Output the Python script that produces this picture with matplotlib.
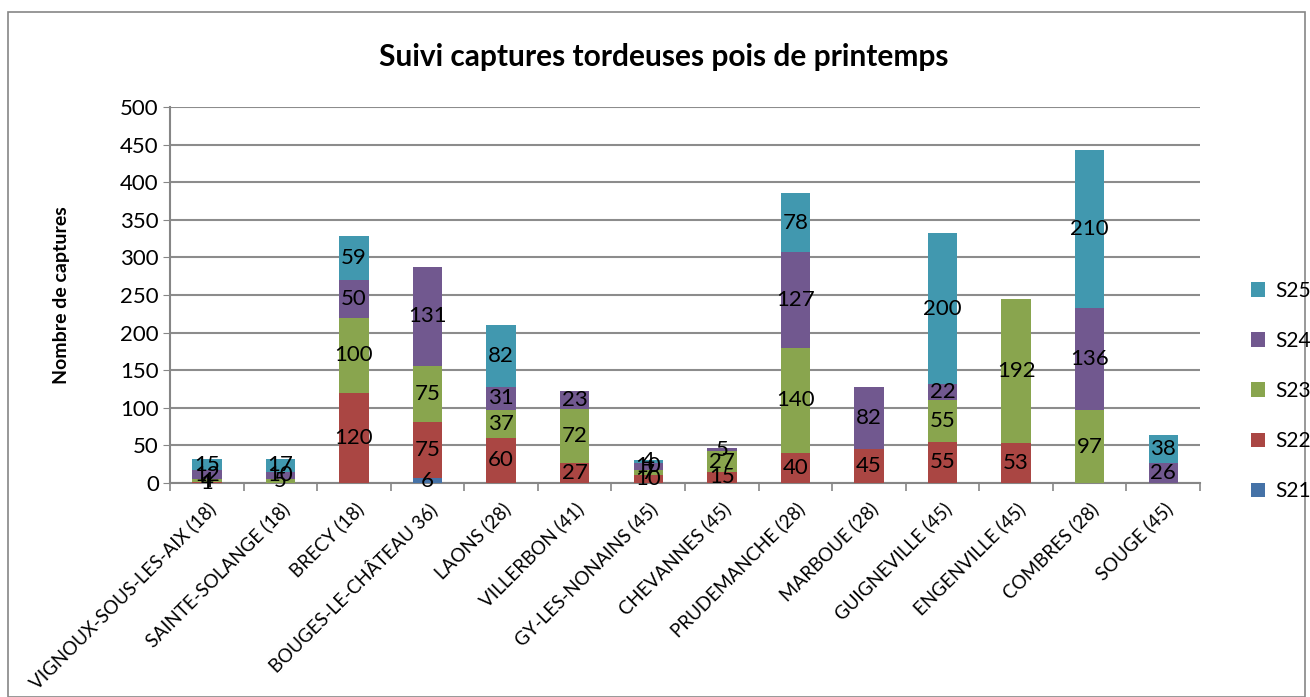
import numpy as np
import matplotlib
matplotlib.use("Agg")
import matplotlib.pyplot as plt
from matplotlib.patches import Rectangle

plt.rcParams['font.family'] = ['Lato', 'DejaVu Sans']

categories = ["VIGNOUX-SOUS-LES-AIX (18)", "SAINTE-SOLANGE (18)", "BRECY (18)",
              "BOUGES-LE-CHÂTEAU 36)", "LAONS (28)", "VILLERBON (41)",
              "GY-LES-NONAINS (45)", "CHEVANNES (45)", "PRUDEMANCHE (28)",
              "MARBOUE (28)", "GUIGNEVILLE (45)", "ENGENVILLE (45)",
              "COMBRES (28)", "SOUGE (45)"]
series_names = ["S21", "S22", "S23", "S24", "S25"]
S21 = [0, 0, 0, 6, 0, 0, 0, 0, 0, 0, 0, 0, 0, 0]
S22 = [1, 0, 120, 75, 60, 27, 10, 15, 40, 45, 55, 53, 0, 0]
S23 = [4, 5, 100, 75, 37, 72, 7, 27, 140, 0, 55, 192, 97, 0]
S24 = [12, 10, 50, 131, 31, 23, 10, 5, 127, 82, 22, 0, 136, 26]
S25 = [15, 17, 59, 0, 82, 0, 4, 0, 78, 0, 200, 0, 210, 38]
series = [S21, S22, S23, S24, S25]
colors = ["#4572A7", "#AA4643", "#89A54E", "#71588F", "#4198AF"]

W, H = 1310, 697
fig = plt.figure(figsize=(W / 100, H / 100), dpi=100)
ax = fig.add_axes([170 / W, 1 - 483 / H, (1200 - 170) / W, (483 - 107) / H])

x = np.arange(len(categories))
bottom = np.zeros(len(categories))
handles = []
for name, vals, col in zip(series_names, series, colors):
    v = np.array(vals, dtype=float)
    b = ax.bar(x, v, 0.4, bottom=bottom, color=col, label=name, zorder=3)
    handles.append(b)
    for xi, vi, bi in zip(x, v, bottom):
        if vi > 0:
            ax.text(xi, bi + vi / 2, f"{int(vi)}", ha="center", va="center",
                    fontsize=16, color="black", zorder=5)
    bottom += v

ax.set_xlim(-0.5, len(categories) - 0.5)
ax.set_ylim(0, 500)
ax.set_yticks(np.arange(0, 501, 50))
ax.tick_params(axis="y", labelsize=16, length=5, color="#868686", pad=3)
ax.yaxis.grid(True, color="#8C8C8C", linewidth=1.5, zorder=0)
ax.set_axisbelow(True)

ax.set_xticks(x)
ax.set_xticklabels(categories, rotation=45, ha="right", rotation_mode="anchor",
                   fontsize=13.5)
ax.tick_params(axis="x", length=0, pad=12)
ax.set_xticks(np.arange(-0.5, len(categories), 1), minor=True)
ax.tick_params(axis="x", which="minor", length=6, color="#868686", width=1.2)

for s in ["top", "right"]:
    ax.spines[s].set_visible(False)
for s in ["left", "bottom"]:
    ax.spines[s].set_color("#868686")
    ax.spines[s].set_linewidth(1.5)

ax.set_ylabel("Nombre de captures", fontsize=14, fontweight="bold", labelpad=36)
fig.text(664 / W, 1 - 57 / H, "Suivi captures tordeuses pois de printemps",
         ha="center", va="center", fontsize=21.5, fontweight="bold")

leg = fig.legend(handles[::-1], series_names[::-1], loc="center left",
                 bbox_to_anchor=(1232 / W, 1 - 391 / H), frameon=False,
                 fontsize=15, handlelength=0.7, handleheight=0.7,
                 labelspacing=1.45, handletextpad=0.5)

fig.add_artist(Rectangle((8 / W, 0), (1305 - 8) / W, 1 - 12 / H,
                         transform=fig.transFigure, fill=False,
                         edgecolor="#868686", linewidth=1.2))

fig.savefig("out.png", dpi=100)
